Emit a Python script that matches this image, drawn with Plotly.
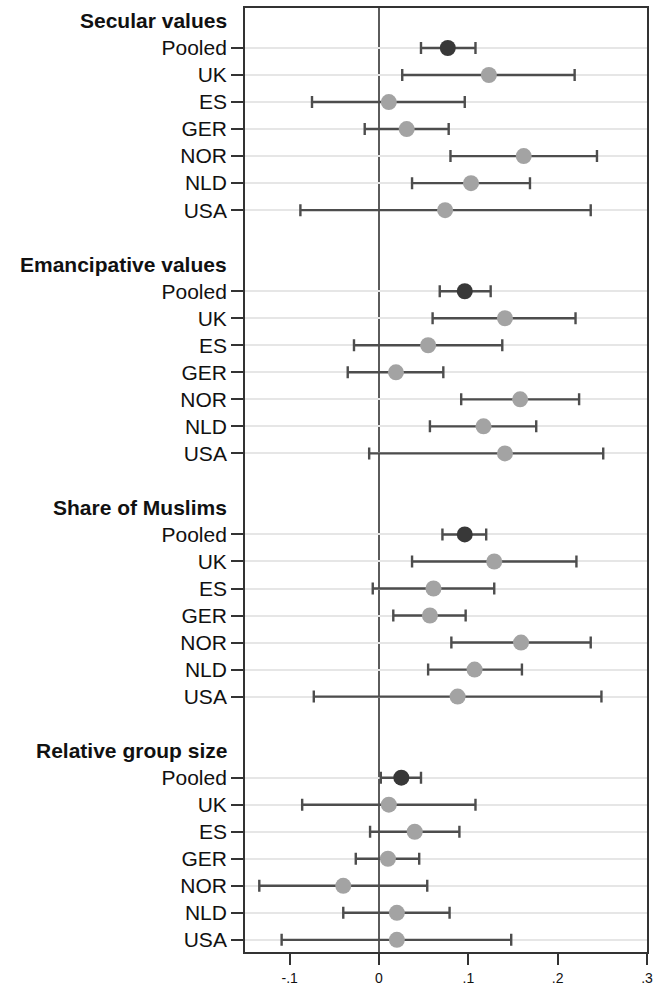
import plotly.graph_objects as go

groups = ["Secular values", "Emancipative values", "Share of Muslims", "Relative group size"]
countries = ["Pooled", "UK", "ES", "GER", "NOR", "NLD", "USA"]

secular_est = [0.077, 0.123, 0.011, 0.031, 0.162, 0.103, 0.074]
secular_lo = [0.047, 0.026, -0.075, -0.016, 0.080, 0.037, -0.088]
secular_hi = [0.108, 0.219, 0.096, 0.078, 0.244, 0.169, 0.237]

emanc_est = [0.096, 0.141, 0.055, 0.019, 0.158, 0.117, 0.141]
emanc_lo = [0.068, 0.060, -0.028, -0.035, 0.092, 0.057, -0.011]
emanc_hi = [0.125, 0.220, 0.138, 0.072, 0.224, 0.176, 0.251]

muslim_est = [0.096, 0.129, 0.061, 0.057, 0.159, 0.107, 0.088]
muslim_lo = [0.071, 0.037, -0.007, 0.016, 0.081, 0.055, -0.073]
muslim_hi = [0.120, 0.221, 0.129, 0.097, 0.237, 0.160, 0.249]

relsize_est = [0.025, 0.011, 0.040, 0.010, -0.040, 0.020, 0.020]
relsize_lo = [0.002, -0.086, -0.010, -0.026, -0.134, -0.040, -0.109]
relsize_hi = [0.047, 0.108, 0.090, 0.045, 0.054, 0.079, 0.148]

x_tickvals = [-0.1, 0, 0.1, 0.2, 0.3]
x_ticktext = ["-.1", "0", ".1", ".2", ".3"]

series = [
    (secular_est, secular_lo, secular_hi),
    (emanc_est, emanc_lo, emanc_hi),
    (muslim_est, muslim_lo, muslim_hi),
    (relsize_est, relsize_lo, relsize_hi),
]

FONT = "Liberation Sans, Arial, Helvetica, sans-serif"
POOLED_COLOR = "#383838"
COUNTRY_COLOR = "#a3a3a3"
BAR_COLOR = "#4d4d4d"

fig = go.Figure()

item_rows = []
item_labels = []
header_rows = []

for g, (est, lo, hi) in enumerate(series):
    base = 9 * g
    header_rows.append(base)
    rows = [base + 1 + i for i in range(len(countries))]
    item_rows += rows
    item_labels += countries
    plus = [h - e for e, h in zip(est, hi)]
    minus = [e - l for e, l in zip(est, lo)]
    for idx_set, color in (([0], POOLED_COLOR), (list(range(1, len(countries))), COUNTRY_COLOR)):
        fig.add_trace(go.Scatter(
            x=[est[i] for i in idx_set],
            y=[rows[i] for i in idx_set],
            mode="markers",
            marker=dict(size=16, color=color, line=dict(width=0)),
            error_x=dict(type="data", symmetric=False,
                         array=[plus[i] for i in idx_set],
                         arrayminus=[minus[i] for i in idx_set],
                         color=BAR_COLOR, thickness=2.4, width=6),
            showlegend=False,
            hoverinfo="skip",
        ))

for g, name in enumerate(groups):
    fig.add_annotation(
        x=0, xref="paper", y=header_rows[g], yref="y",
        text="<b>" + name + "</b>", showarrow=False,
        xanchor="right", yanchor="middle", xshift=-16,
        font=dict(family=FONT, size=21, color="#111111"),
    )

fig.add_shape(type="line", x0=0, x1=0, xref="x", y0=0, y1=1, yref="paper",
              line=dict(color="#333333", width=1.6), layer="below")

fig.update_xaxes(
    range=[-0.15, 0.3], tickvals=x_tickvals, ticktext=x_ticktext,
    ticks="outside", ticklen=11, tickwidth=1.6, tickcolor="#333333",
    ticklabelstandoff=1, automargin=False,
    showgrid=False, zeroline=False, showline=True, linecolor="#333333",
    linewidth=1.8, mirror=True,
    tickfont=dict(family=FONT, size=14, color="#111111"),
)
fig.update_yaxes(
    range=[34.45, -0.48], tickvals=item_rows, ticktext=item_labels,
    ticks="outside", ticklen=12, tickwidth=1.6, tickcolor="#333333",
    automargin=False,
    showgrid=True, gridcolor="#e6e6e6", gridwidth=2,
    zeroline=False, showline=True, linecolor="#333333", linewidth=1.8, mirror=True,
    tickfont=dict(family=FONT, size=21, color="#111111"),
)

fig.update_layout(
    width=656, height=987,
    margin=dict(l=245, r=9, t=8, b=35, autoexpand=False),
    plot_bgcolor="white", paper_bgcolor="white",
    showlegend=False,
)

fig.write_html("out.html")
